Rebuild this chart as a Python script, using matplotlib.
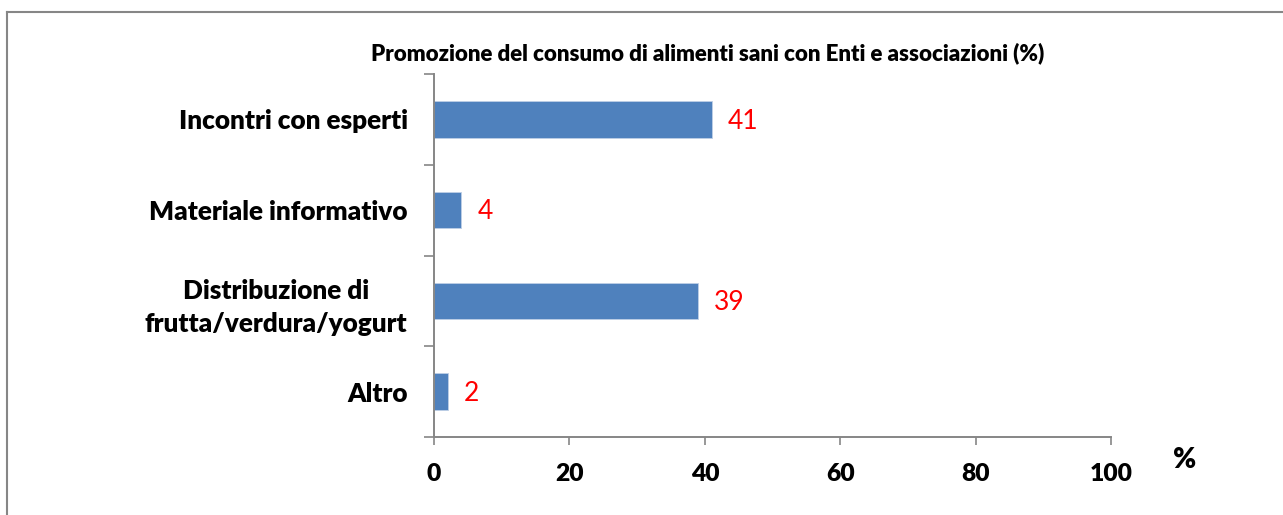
import matplotlib
matplotlib.use('Agg')
import matplotlib.pyplot as plt
from matplotlib.lines import Line2D

categorie = ['Incontri con esperti', 'Materiale informativo',
             'Distribuzione di\nfrutta/verdura/yogurt', 'Altro']
valori = [41, 4, 39, 2]
xticks = [0, 20, 40, 60, 80, 100]
titolo = 'Promozione del consumo di alimenti sani con Enti e associazioni (%)'

plt.rcParams['font.family'] = ['Lato', 'DejaVu Sans']
grigio = '#868686'

W, H = 1283, 515
fig = plt.figure(figsize=(W / 100, H / 100), dpi=100)
ax = fig.add_axes([434 / W, 1 - 437 / H, (1111 - 434) / W, (437 - 74) / H])

pos = list(range(len(categorie)))
ax.barh(pos, valori, height=0.4, color='#4F81BD', edgecolor='#BFCFE6', linewidth=0.6, zorder=2)
for p, v in zip(pos, valori):
    ax.text(v + 2.4, p + 0.02, str(v), color='red', fontsize=19, va='center', ha='left')

ax.set_ylim(len(categorie) - 0.5, -0.5)
ax.set_xlim(0, 100)

# tick sulla y tra le categorie
ax.set_yticks([i - 0.5 for i in range(len(categorie) + 1)])
ax.set_yticklabels([])
ax.tick_params(axis='y', length=7, width=1.2, color=grigio, direction='out')
ax.set_yticks(pos, minor=True)
ax.set_yticklabels(categorie, minor=True, fontsize=18.8, fontweight='heavy',
                   linespacing=1.45, multialignment='center')
ax.tick_params(axis='y', which='minor', length=0, pad=19)

ax.set_xticks(xticks)
ax.set_xticklabels([str(t) for t in xticks], fontsize=17.7, fontweight='heavy')
ax.tick_params(axis='x', length=6, width=1.2, color=grigio, direction='out', pad=13)

for s in ['top', 'right']:
    ax.spines[s].set_visible(False)
for s in ['left', 'bottom']:
    ax.spines[s].set_color(grigio)
    ax.spines[s].set_linewidth(1.4)

fig.text(708 / W, 1 - 53 / H, titolo, ha='center', va='center', fontsize=16, fontweight='heavy')
fig.text(1185 / W, 1 - 460 / H, '%', ha='center', va='center', fontsize=20, fontweight='heavy')

# cornice del grafico
fig.add_artist(Line2D([7 / W, 7 / W], [0, 1 - 12 / H], transform=fig.transFigure, color=grigio, lw=1.5))
fig.add_artist(Line2D([7 / W, 1], [1 - 12 / H, 1 - 12 / H], transform=fig.transFigure, color=grigio, lw=1.5))

fig.savefig('out.png', dpi=100)
